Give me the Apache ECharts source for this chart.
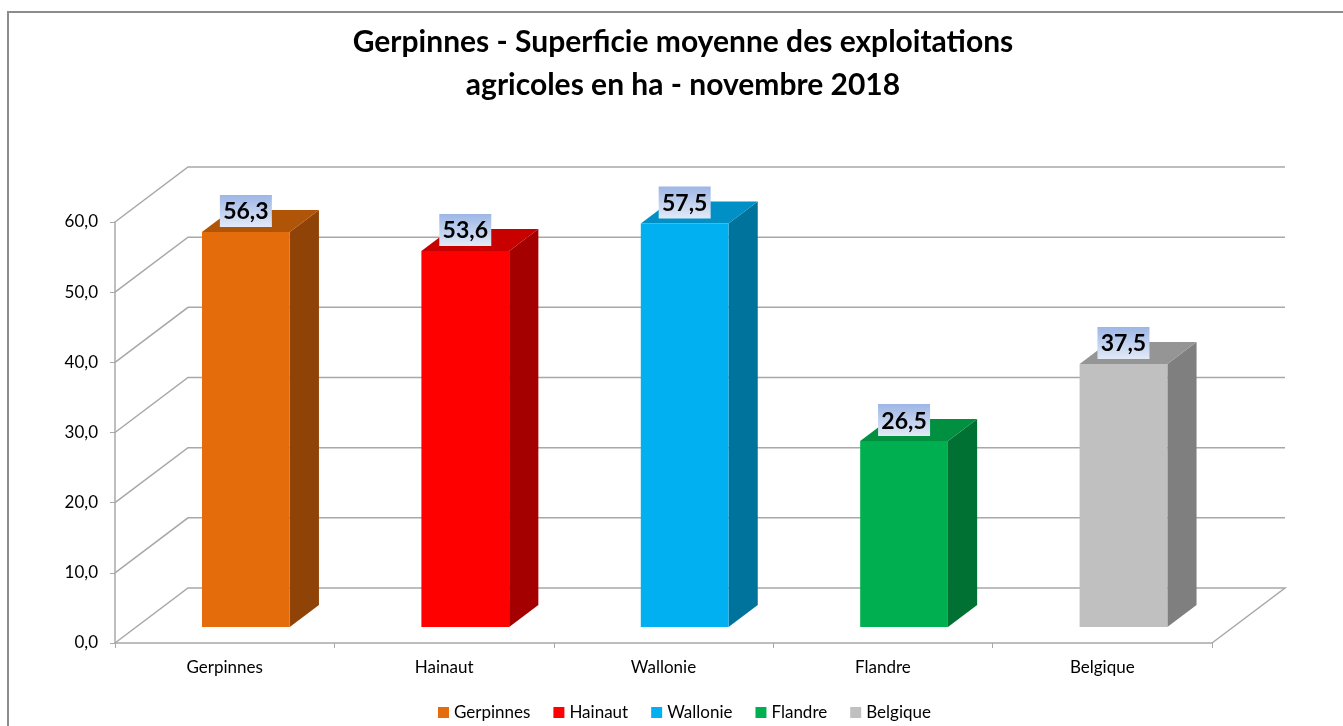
<!DOCTYPE html>
<html>
<head>
<meta charset="UTF-8">
<title>Gerpinnes - Superficie moyenne</title>
<style type="text/css">
html, body {
	margin: 0;
	padding: 0;
	height: 100%;
	background: #fff;
}
#main {
	width: 1343px;
	height: 726px;
}
</style>
</head>
<body>
	<div id="main"></div>
<script type="text/javascript" src="https://cdn.jsdelivr.net/npm/echarts@6/dist/echarts.min.js"></script>
<script type="text/javascript">
	// données du graphique
	var categories = [ "Gerpinnes", "Hainaut", "Wallonie", "Flandre", "Belgique" ];
	var values = [ 56.3, 53.6, 57.5, 26.5, 37.5 ];
	var yTicks = [ 0, 10, 20, 30, 40, 50, 60 ];

	// couleurs : face avant, côté, dessus
	var frontColors = [ '#E46C0A', '#FF0000', '#00B0F0', '#00B050', '#C0C0C0' ];
	var sideColors = [ '#904306', '#A50000', '#00739C', '#007033', '#7F7F7F' ];
	var topColors = [ '#B05408', '#C80000', '#0090C6', '#009040', '#959595' ];

	var FONT = 'Lato, "Open Sans", sans-serif';
	var DX = 73, DY = 55; // profondeur de la perspective
	var D0 = 0.29, D1 = 0.69; // avant / arrière des barres
	var GRID_COLOR = '#a8a8a8';

	function fmt(v) {
		return v.toFixed(1).replace('.', ',');
	}

	var chart = echarts.init(document.getElementById('main'));

	// murs du fond + sol
	var wallData = [];
	for (var k = 0; k < yTicks.length; k++) {
		wallData.push([ 0, yTicks[k] ]);
	}
	var wallSeries = {
		type : 'custom',
		silent : true,
		z : 1,
		data : wallData,
		renderItem : function(params, api) {
			var cs = params.coordSys;
			var v = api.value(1);
			var y = api.coord([ 0, v ])[1];
			var left = cs.x, right = cs.x + cs.width;
			var pts = [ [ left, y ], [ left + DX, y - DY ], [ right + DX, y - DY ] ];
			if (v === 0) {
				pts.push([ right, y ]);
			}
			return {
				type : 'polyline',
				shape : { points : pts },
				style : { stroke : GRID_COLOR, lineWidth : 1.5, fill : null }
			};
		}
	};

	function barRender(idx) {
		return function(params, api) {
			var ci = api.value(0);
			var v = api.value(1);
			var c0 = api.coord([ ci, 0 ]);
			var c1 = api.coord([ ci, v ]);
			var w = api.size([ 1, 0 ])[0] * 0.4;
			var x0 = c0[0] - w / 2 + D0 * DX;
			var yb = c0[1] - D0 * DY;
			var yt = c1[1] - D0 * DY;
			var ddx = (D1 - D0) * DX, ddy = (D1 - D0) * DY;
			var cx = x0 + w / 2;
			var boxW = 52, boxH = 32;
			var boxBottom = yt - 5;
			return {
				type : 'group',
				children : [ {
					type : 'polygon',
					shape : { points : [ [ x0 + w, yt ], [ x0 + w + ddx, yt - ddy ], [ x0 + w + ddx, yb - ddy ], [ x0 + w, yb ] ] },
					style : { fill : sideColors[idx] }
				}, {
					type : 'polygon',
					shape : { points : [ [ x0, yt ], [ x0 + ddx, yt - ddy ], [ x0 + w + ddx, yt - ddy ], [ x0 + w, yt ] ] },
					style : { fill : topColors[idx] }
				}, {
					type : 'rect',
					shape : { x : x0, y : yt, width : w, height : yb - yt },
					style : { fill : frontColors[idx] }
				}, {
					type : 'rect',
					shape : { x : cx - boxW / 2, y : boxBottom - boxH, width : boxW, height : boxH },
					style : {
						fill : {
							type : 'linear', x : 0, y : 0, x2 : 0, y2 : 1,
							colorStops : [ { offset : 0, color : '#9DB6E6' }, { offset : 1, color : '#E2EAF7' } ]
						}
					}
				}, {
					type : 'text',
					x : cx,
					y : boxBottom - boxH / 2 + 1,
					style : {
						text : fmt(v),
						fill : '#000',
						font : 'bold 23px ' + FONT,
						align : 'center',
						verticalAlign : 'middle'
					}
				} ]
			};
		};
	}

	var series = [ wallSeries ];
	for (var i = 0; i < categories.length; i++) {
		series.push({
			name : categories[i],
			type : 'custom',
			z : 2,
			itemStyle : { color : frontColors[i] },
			data : [ [ i, values[i] ] ],
			renderItem : barRender(i)
		});
	}

	var option = {
		backgroundColor : '#fff',
		animation : false,
		title : {
			text : 'Gerpinnes - Superficie moyenne des exploitations\nagricoles en ha - novembre 2018',
			left : 678,
			textAlign : 'center',
			top : 16,
			textStyle : {
				fontFamily : FONT,
				fontSize : 30,
				fontWeight : 'bold',
				color : '#000',
				lineHeight : 43
			}
		},
		legend : {
			data : categories,
			left : 433,
			top : 699,
			icon : 'rect',
			itemWidth : 11,
			itemHeight : 11,
			itemGap : 23,
			itemStyle : { borderWidth : 0 },
			textStyle : { fontFamily : FONT, fontSize : 17, color : '#000' }
		},
		grid : {
			left : 115,
			right : 131,
			top : 222,
			bottom : 83
		},
		xAxis : {
			type : 'category',
			data : categories,
			axisLine : { lineStyle : { color : GRID_COLOR, width : 1.5 } },
			axisTick : { show : true, length : 5, lineStyle : { color : GRID_COLOR } },
			axisLabel : { color : '#000', fontFamily : FONT, fontSize : 17, margin : 16 },
			splitLine : { show : false }
		},
		yAxis : {
			type : 'value',
			min : 0,
			max : 60,
			interval : 10,
			axisLine : { show : true, lineStyle : { color : GRID_COLOR, width : 1.5 } },
			axisTick : { show : true, length : 5, lineStyle : { color : GRID_COLOR } },
			axisLabel : { color : '#000', fontFamily : FONT, fontSize : 17, margin : 17, formatter : fmt },
			splitLine : { show : false }
		},
		graphic : [ {
			type : 'rect',
			silent : true,
			shape : { x : 8, y : 12, width : 1400, height : 800 },
			style : { fill : null, stroke : '#8c8c8c', lineWidth : 2 }
		} ],
		series : series
	};

	chart.setOption(option);
</script>
</body>
</html>
